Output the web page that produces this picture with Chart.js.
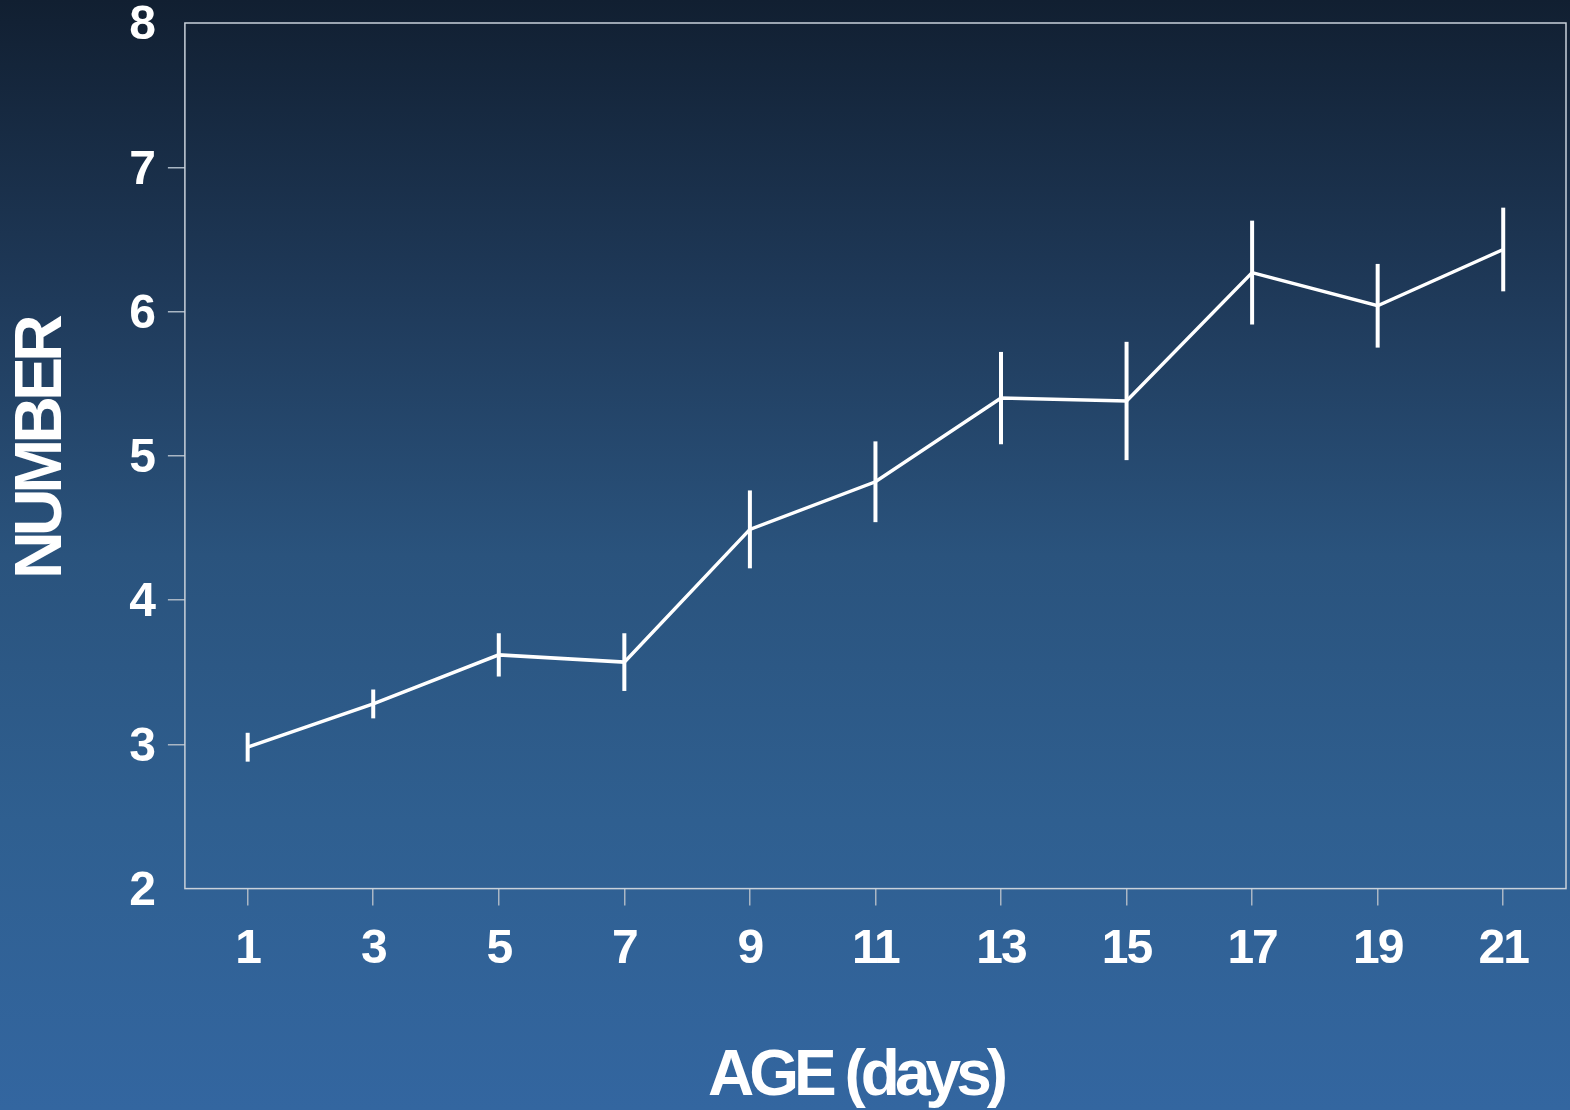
<!DOCTYPE html>
<html>
<head>
<meta charset="utf-8">
<title>Number by age</title>
<script src="https://cdn.jsdelivr.net/npm/chart.js@4.4.1/dist/chart.umd.min.js"></script>
<style>
  html, body { margin: 0; padding: 0; }
  body {
    width: 1570px; height: 1110px; overflow: hidden;
    background: linear-gradient(to bottom, #111f31 0%, #1f3a5a 27%, #2a537d 50%, #2f5f90 74%, #3366a0 100%);
  }
  #wrap { position: relative; width: 1570px; height: 1110px; }
</style>
</head>
<body>
<div id="wrap"><canvas id="grafico" width="1570" height="1110"></canvas></div>
<script>
// idade (dias), média e erro padrão
var idades = [1, 3, 5, 7, 9, 11, 13, 15, 17, 19, 21];
var medias = [2.98, 3.28, 3.62, 3.57, 4.49, 4.82, 5.40, 5.38, 6.27, 6.04, 6.43];
var erros  = [0.10, 0.10, 0.15, 0.20, 0.27, 0.28, 0.32, 0.41, 0.36, 0.29, 0.29];
var ticksX = [1, 3, 5, 7, 9, 11, 13, 15, 17, 19, 21];
var ticksY = [2, 3, 4, 5, 6, 7, 8];

var corTick = '#a9b6c4';
var corMoldura = '#c9d1da';
var fonte = "'Liberation Sans', Arial, Helvetica, sans-serif";

var pontos = idades.map(function(x, i) { return { x: x, y: medias[i] }; });

// barras de erro verticais sem tampa
var barrasErro = {
  id: 'barrasErro',
  afterDatasetsDraw: function(chart) {
    var ctx = chart.ctx, sx = chart.scales.x, sy = chart.scales.y;
    ctx.save();
    ctx.strokeStyle = '#ffffff';
    ctx.lineWidth = 4;
    idades.forEach(function(x, i) {
      var px = sx.getPixelForValue(x);
      ctx.beginPath();
      ctx.moveTo(px, sy.getPixelForValue(medias[i] + erros[i]));
      ctx.lineTo(px, sy.getPixelForValue(medias[i] - erros[i]));
      ctx.stroke();
    });
    ctx.restore();
  }
};

// moldura da área do gráfico; texto com espaçamento apertado (títulos mais ainda)
var moldura = {
  id: 'moldura',
  beforeDraw: function(chart) {
    var ctx = chart.ctx;
    ctx.letterSpacing = '-2px';
    Object.keys(chart.scales).forEach(function(id) {
      var s = chart.scales[id];
      if (s._tituloApertado) return;
      var orig = s.drawTitle;
      s.drawTitle = function() {
        ctx.letterSpacing = '-5px';
        orig.apply(this, arguments);
        ctx.letterSpacing = '-2px';
      };
      s._tituloApertado = true;
    });
  },
  afterDraw: function(chart) {
    var a = chart.chartArea, ctx = chart.ctx;
    ctx.save();
    ctx.strokeStyle = corMoldura;
    ctx.lineWidth = 1.5;
    ctx.strokeRect(a.left, a.top, a.right - a.left, a.bottom - a.top);
    ctx.restore();
    ctx.letterSpacing = '0px';
  }
};

function fixarTicks(lista) {
  return function(scale) { scale.ticks = lista.map(function(v) { return { value: v }; }); };
}

// sem folga extra das metades dos rótulos; o layout.padding manda
function semFolga(scale) {
  scale.paddingTop = 0; scale.paddingBottom = 0;
  scale.paddingLeft = 0; scale.paddingRight = 0;
}

new Chart(document.getElementById('grafico'), {
  type: 'scatter',
  data: {
    datasets: [{
      data: pontos,
      showLine: true,
      borderColor: '#ffffff',
      borderWidth: 3.5,
      pointRadius: 0,
      pointHoverRadius: 0,
      tension: 0
    }]
  },
  options: {
    responsive: false,
    animation: false,
    events: [],
    layout: { padding: { left: 3, right: 4, top: 23, bottom: 0 } },
    plugins: { legend: { display: false }, tooltip: { enabled: false } },
    scales: {
      x: {
        type: 'linear', min: 0, max: 22,
        afterBuildTicks: fixarTicks(ticksX),
        afterFit: semFolga,
        border: { display: false },
        grid: { drawOnChartArea: false, drawTicks: true, tickLength: 17, color: corTick, lineWidth: 1.5 },
        ticks: { color: '#ffffff', padding: 15, font: { family: fonte, size: 48, weight: 'bold' } },
        title: { display: true, text: 'AGE (days)\u2002 ', color: '#ffffff', padding: { top: 46, bottom: -6 },
                 font: { family: fonte, size: 64, weight: 'bold' } }
      },
      y: {
        type: 'linear', min: 2, max: 8,
        afterBuildTicks: fixarTicks(ticksY),
        afterFit: semFolga,
        border: { display: false },
        grid: {
          drawOnChartArea: false, drawTicks: true, tickLength: 17, lineWidth: 1.5,
          color: function(c) { return (c.tick && (c.tick.value === 2 || c.tick.value === 8)) ? 'rgba(0,0,0,0)' : corTick; }
        },
        ticks: { color: '#ffffff', padding: 14, labelOffset: 3, font: { family: fonte, size: 48, weight: 'bold' } },
        title: { display: true, text: ' NUMBER', color: '#ffffff', padding: { top: 0, bottom: 31 },
                 font: { family: fonte, size: 66, weight: 'bold' } }
      }
    }
  },
  plugins: [barrasErro, moldura]
});
</script>
</body>
</html>
